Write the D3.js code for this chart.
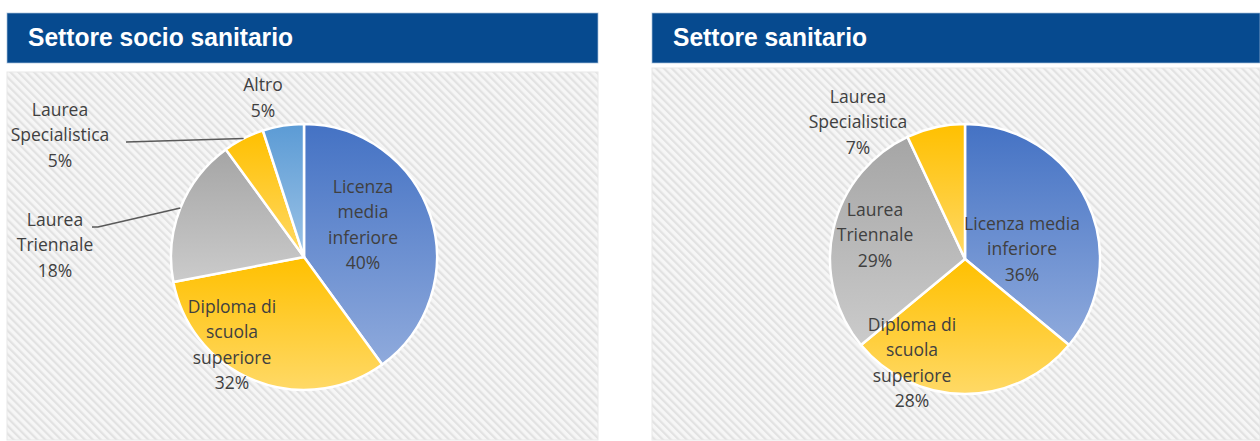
<!DOCTYPE html>
<html>
<head>
<meta charset="utf-8">
<script src="https://cdn.jsdelivr.net/npm/d3@7"></script>
<style>
  html, body { margin: 0; padding: 0; background: #ffffff; }
  svg { display: block; }
</style>
</head>
<body>
<svg id="chart" width="1260" height="441"></svg>
<script>
// ---- data ----
const titles = ["Settore socio sanitario", "Settore sanitario"];
const categoriesLeft = ["Licenza media inferiore", "Diploma di scuola superiore", "Laurea Triennale", "Laurea Specialistica", "Altro"];
const valuesLeft = [40, 32, 18, 5, 5];
const categoriesRight = ["Licenza media inferiore", "Diploma di scuola superiore", "Laurea Triennale", "Laurea Specialistica"];
const valuesRight = [36, 28, 29, 7];
// label line breaks (as shown in the picture)
const labelLinesLeft = [["Licenza", "media", "inferiore"], ["Diploma di", "scuola", "superiore"], ["Laurea", "Triennale"], ["Laurea", "Specialistica"], ["Altro"]];
const labelLinesRight = [["Licenza media", "inferiore"], ["Diploma di", "scuola", "superiore"], ["Laurea", "Triennale"], ["Laurea", "Specialistica"]];

// ---- styles / layout ----
const sliceColors = {
  "Licenza media inferiore": ["#4472c4", "#8faadc"],
  "Diploma di scuola superiore": ["#ffc000", "#ffd966"],
  "Laurea Triennale": ["#a5a5a5", "#cbcbcb"],
  "Laurea Specialistica": ["#ffc000", "#ffd966"],
  "Altro": ["#5b9bd5", "#9dc3e6"]
};

const panels = [
  { x: 7, w: 591, plotTop: 72, cx: 304, cy: 257, r: 133, titleW: 265,
    cats: categoriesLeft, vals: valuesLeft, lines: labelLinesLeft,
    // label centre offsets relative to pie centre
    labelOff: [[59, -32], [-72, 88], [-249, -12], [-244, -122], [-41, -159]],
    // leader lines: [elbow offset, end offset] relative to label centre, null = none
    leaders: [null, null, [[43, -18], [37, -18]], [[66, 7], [66, 7]], null] },
  { x: 652, w: 608, plotTop: 68, cx: 965, cy: 259, r: 135, titleW: 194,
    cats: categoriesRight, vals: valuesRight, lines: labelLinesRight,
    labelOff: [[57, -10], [-53, 104], [-90, -24], [-107, -137]],
    leaders: [null, null, null, null] }
];

const svg = d3.select("#chart");
const defs = svg.append("defs");

// hatch pattern
const pat = defs.append("pattern")
  .attr("id", "hatch").attr("patternUnits", "userSpaceOnUse")
  .attr("width", 5.6).attr("height", 5.6)
  .attr("patternTransform", "rotate(-45)");
pat.append("rect").attr("width", 5.6).attr("height", 5.6).attr("fill", "#f6f6f6");
pat.append("rect").attr("width", 2.2).attr("height", 5.6).attr("fill", "#e2e2e2");

// gradients
Object.entries(sliceColors).forEach(([k, c], i) => {
  const g = defs.append("linearGradient").attr("id", "grad" + i)
    .attr("x1", 0).attr("y1", 0).attr("x2", 0).attr("y2", 1);
  g.append("stop").attr("offset", "0%").attr("stop-color", c[0]);
  g.append("stop").attr("offset", "100%").attr("stop-color", c[1]);
});
const gradId = k => "url(#grad" + Object.keys(sliceColors).indexOf(k) + ")";

const pie = d3.pie().sort(null).value(d => d.v);

panels.forEach((p, pi) => {
  const g = svg.append("g");
  // header
  g.append("rect").attr("x", p.x).attr("y", 13).attr("width", p.w).attr("height", 50)
    .attr("fill", "#064a8f");
  g.append("rect").attr("x", p.x).attr("y", 13).attr("width", p.w).attr("height", 50)
    .attr("fill", "none").attr("stroke", "#a9c0dc").attr("stroke-width", 1).attr("opacity", 0.7);
  g.append("text").attr("x", p.x + 21).attr("y", 46)
    .attr("fill", "#ffffff")
    .attr("font-family", "'Liberation Sans Narrow', 'Arial Narrow', 'Liberation Sans', sans-serif")
    .attr("font-weight", "bold").attr("font-size", 25)
    .attr("textLength", p.titleW).attr("lengthAdjust", "spacingAndGlyphs")
    .text(titles[pi]);

  // plot area
  g.append("rect").attr("x", p.x).attr("y", p.plotTop).attr("width", p.w).attr("height", 441 - p.plotTop - 1)
    .attr("fill", "url(#hatch)").attr("stroke", "#e8e8e8").attr("stroke-width", 1);

  const data = p.cats.map((c, i) => ({ c, v: p.vals[i], i }));
  const arcs = pie(data);
  const arc = d3.arc().innerRadius(0).outerRadius(p.r);
  const pg = g.append("g").attr("transform", `translate(${p.cx},${p.cy})`);

  pg.selectAll("path.slice").data(arcs).join("path")
    .attr("class", "slice")
    .attr("d", arc)
    .attr("fill", d => gradId(d.data.c))
    .attr("stroke", "#ffffff").attr("stroke-width", 2.5).attr("stroke-linejoin", "round");

  // leader lines
  arcs.forEach((a, i) => {
    const L = p.leaders[i];
    if (!L) return;
    const mid = (a.startAngle + a.endAngle) / 2;
    const edge = [Math.sin(mid) * p.r, -Math.cos(mid) * p.r];
    const lo = p.labelOff[i];
    const pts = [edge, [lo[0] + L[0][0], lo[1] + L[0][1]], [lo[0] + L[1][0], lo[1] + L[1][1]]];
    pg.append("path").attr("d", d3.line()(pts))
      .attr("fill", "none").attr("stroke", "#595959").attr("stroke-width", 1.6);
  });

  // labels
  arcs.forEach((a, i) => {
    const lines = p.lines[i].concat([d3.format(".0%")(a.data.v / 100)]);
    const lo = p.labelOff[i];
    const lh = 25.5;
    const t = pg.append("text")
      .attr("text-anchor", "middle")
      .attr("font-family", "'Open Sans', 'Noto Sans', sans-serif")
      .attr("font-size", 17.5).attr("fill", "#404040");
    lines.forEach((ln, j) => {
      t.append("tspan").attr("x", lo[0])
        .attr("y", lo[1] + (j - (lines.length - 1) / 2) * lh + 6)
        .text(ln);
    });
  });
});
</script>
</body>
</html>
